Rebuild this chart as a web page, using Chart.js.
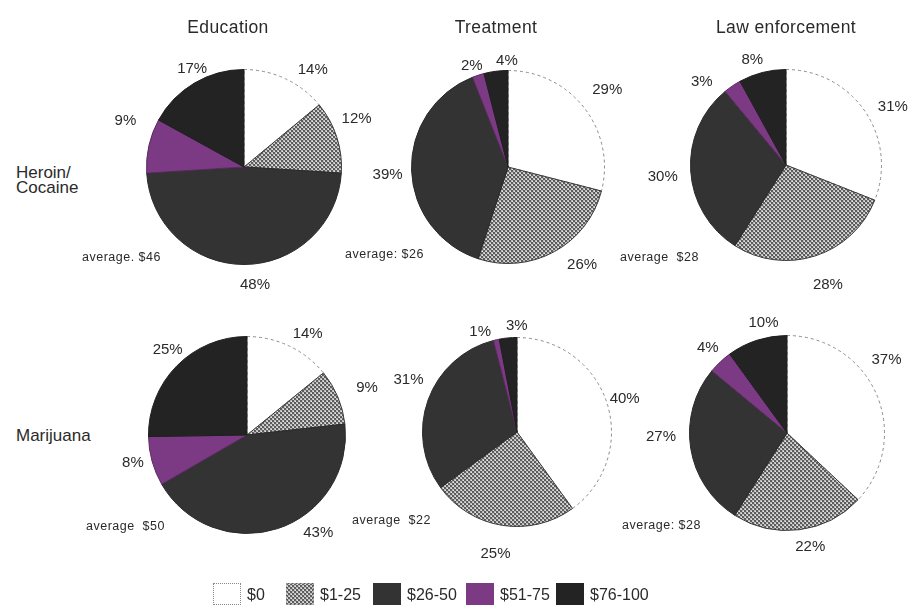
<!DOCTYPE html>
<html>
<head>
<meta charset="utf-8">
<script src="https://cdn.jsdelivr.net/npm/chart.js@4/dist/chart.umd.min.js"></script>
<style>
  html, body { margin: 0; padding: 0; background: #fff; }
  #stage { position: relative; width: 912px; height: 611px; overflow: hidden;
           font-family: "Liberation Sans", Arial, sans-serif; color: #2a2a2a; }
  canvas.pie { position: absolute; }
  .title { position: absolute; font-size: 17.5px; white-space: nowrap; transform: translate(-50%, -50%); letter-spacing: 0.4px; }
  .row { position: absolute; font-size: 17px; line-height: 15px; }
  .avg { position: absolute; font-size: 12.5px; letter-spacing: 0.5px; white-space: pre; transform: translateY(-50%); }
  .swatch { position: absolute; width: 28px; height: 22px; box-sizing: border-box; }
  .ltext { position: absolute; font-size: 16px; white-space: nowrap; transform: translateY(-50%); }
</style>
</head>
<body>
<div id="stage"></div>
<script>
// Spending brackets (legend order, also slice order clockwise from 12 o'clock)
const spendCategories = ['$0', '$1-25', '$26-50', '$51-75', '$76-100'];
const programs = ['Education', 'Treatment', 'Law enforcement'];
const drugs = ['Heroin/\nCocaine', 'Marijuana'];

// Share of respondents (%) in each bracket
const heroinEducation   = [14, 12, 48, 9, 17];
const heroinTreatment   = [29, 26, 39, 2, 4];
const heroinLaw         = [31, 28, 30, 3, 8];
const marijuanaEducation = [14, 9, 43, 8, 25];
const marijuanaTreatment = [40, 25, 31, 1, 3];
const marijuanaLaw       = [37, 22, 27, 4, 10];

// Average amount per program
const heroinAverages    = ['average. $46', 'average: $26', 'average  $28'];
const marijuanaAverages = ['average  $50', 'average  $22', 'average: $28'];

// ---- layout (pixels) ----
const pieLayout = [
  { cx: 244, cy: 167, r: 98 }, { cx: 508, cy: 167, r: 97 }, { cx: 786, cy: 165, r: 96 },
  { cx: 247, cy: 435, r: 99 }, { cx: 517, cy: 432, r: 95 }, { cx: 787, cy: 433, r: 98 }
];
// small offsets for the percentage labels around each pie
const labelNudge = [
  [[17, 13], [-3, -11], [11, -4], [0, -20], [10, 6]],
  [[4, -3], [16, -8], [0, 4], [1, 13], [14, 13]],
  [[8, 9], [5, 6], [-4, 4], [-17, 16], [-4, 11]],
  [[8, 9], [7, 0], [33, -19], [4, -5], [8, 1]],
  [[-5, 3], [-3, 5], [3, -12], [-11, 16], [11, 12]],
  [[-12, -25], [8, -7], [-6, -15], [4, 3], [14, 5]]
];
const avgPos = [[82, 257], [345, 254], [620, 257], [86, 526], [352, 520], [622, 525]];
const titleX = [228, 496, 786];
const legendX = [213, 286, 373, 466, 556];

const stage = document.getElementById('stage');

// fine cross-hatch used for the $1-25 bracket
function makeHatch() {
  const c = document.createElement('canvas');
  c.width = 4; c.height = 4;
  const g = c.getContext('2d');
  g.fillStyle = '#bdbdbd'; g.fillRect(0, 0, 4, 4);
  g.fillStyle = '#5c5c5c';
  for (let i = 0; i < 4; i++) { g.fillRect(i, i, 1, 1); g.fillRect(3 - i, i, 1, 1); }
  g.fillStyle = '#e4e4e4';
  g.fillRect(2, 0, 1, 1); g.fillRect(0, 2, 1, 1);
  return c;
}
const hatchTile = makeHatch();
const hatch = hatchTile.getContext('2d').createPattern(hatchTile, 'repeat');

const fills   = ['#ffffff', hatch, '#333333', '#7d3a84', '#232323'];
const borders = ['#8a8a8a', '#3a3a3a', '#2a2a2a', '#5a2a60', '#1e1e1e'];

const pctLabels = {
  id: 'pctLabels',
  afterDatasetsDraw(chart, args, opts) {
    const ctx = chart.ctx;
    const meta = chart.getDatasetMeta(0);
    const values = chart.data.datasets[0].data;
    ctx.save();
    ctx.font = '15px "Liberation Sans", Arial, sans-serif';
    ctx.fillStyle = '#2a2a2a';
    ctx.textAlign = 'center';
    ctx.textBaseline = 'middle';
    meta.data.forEach((arc, i) => {
      const p = arc.getProps(['x', 'y', 'startAngle', 'endAngle', 'outerRadius'], true);
      const mid = (p.startAngle + p.endAngle) / 2;
      const R = p.outerRadius + 24;
      const n = opts.nudge[i];
      ctx.fillText(values[i] + '%', p.x + Math.cos(mid) * R + n[0], p.y + Math.sin(mid) * R + n[1]);
    });
    ctx.restore();
  }
};

const pieData = [heroinEducation, heroinTreatment, heroinLaw,
                 marijuanaEducation, marijuanaTreatment, marijuanaLaw];

pieData.forEach((values, k) => {
  const L = pieLayout[k];
  const size = 300;
  const cv = document.createElement('canvas');
  cv.className = 'pie';
  cv.width = size; cv.height = size;
  cv.style.left = (L.cx - size / 2) + 'px';
  cv.style.top = (L.cy - size / 2) + 'px';
  stage.appendChild(cv);
  new Chart(cv, {
    type: 'pie',
    data: {
      labels: spendCategories,
      datasets: [{
        data: values,
        backgroundColor: fills,
        borderColor: borders,
        borderWidth: 1,
        borderDash: (c) => c.dataIndex === 0 ? [3, 3] : []
      }]
    },
    options: {
      responsive: false,
      animation: false,
      devicePixelRatio: 1,
      layout: { padding: size / 2 - L.r },
      events: [],
      plugins: {
        legend: { display: false },
        tooltip: { enabled: false },
        pctLabels: { nudge: labelNudge[k] }
      }
    },
    plugins: [pctLabels]
  });
});

// column titles
programs.forEach((t, i) => {
  const d = document.createElement('div');
  d.className = 'title';
  d.textContent = t;
  d.style.left = titleX[i] + 'px';
  d.style.top = '27px';
  stage.appendChild(d);
});

// row labels
const rowTop = [165, 428];
drugs.forEach((t, i) => {
  const d = document.createElement('div');
  d.className = 'row';
  d.innerHTML = t.split('\n').join('<br>');
  d.style.left = '16px';
  d.style.top = rowTop[i] + 'px';
  stage.appendChild(d);
});

// average labels
heroinAverages.concat(marijuanaAverages).forEach((t, i) => {
  const d = document.createElement('div');
  d.className = 'avg';
  d.textContent = t;
  d.style.left = avgPos[i][0] + 'px';
  d.style.top = avgPos[i][1] + 'px';
  stage.appendChild(d);
});

// legend
const hatchURL = (() => {
  const c = document.createElement('canvas');
  c.width = 28; c.height = 22;
  const g = c.getContext('2d');
  g.fillStyle = g.createPattern(hatchTile, 'repeat');
  g.fillRect(0, 0, 28, 22);
  return c.toDataURL();
})();
spendCategories.forEach((label, i) => {
  const s = document.createElement('div');
  s.className = 'swatch';
  s.style.left = legendX[i] + 'px';
  s.style.top = '583px';
  if (i === 0) { s.style.background = '#fff'; s.style.border = '1px dotted #888'; }
  else if (i === 1) { s.style.backgroundImage = 'url(' + hatchURL + ')'; s.style.border = '1px dotted #999'; }
  else { s.style.background = fills[i]; }
  stage.appendChild(s);
  const t = document.createElement('div');
  t.className = 'ltext';
  t.textContent = label;
  t.style.left = (legendX[i] + 34) + 'px';
  t.style.top = '595px';
  stage.appendChild(t);
});
</script>
</body>
</html>
